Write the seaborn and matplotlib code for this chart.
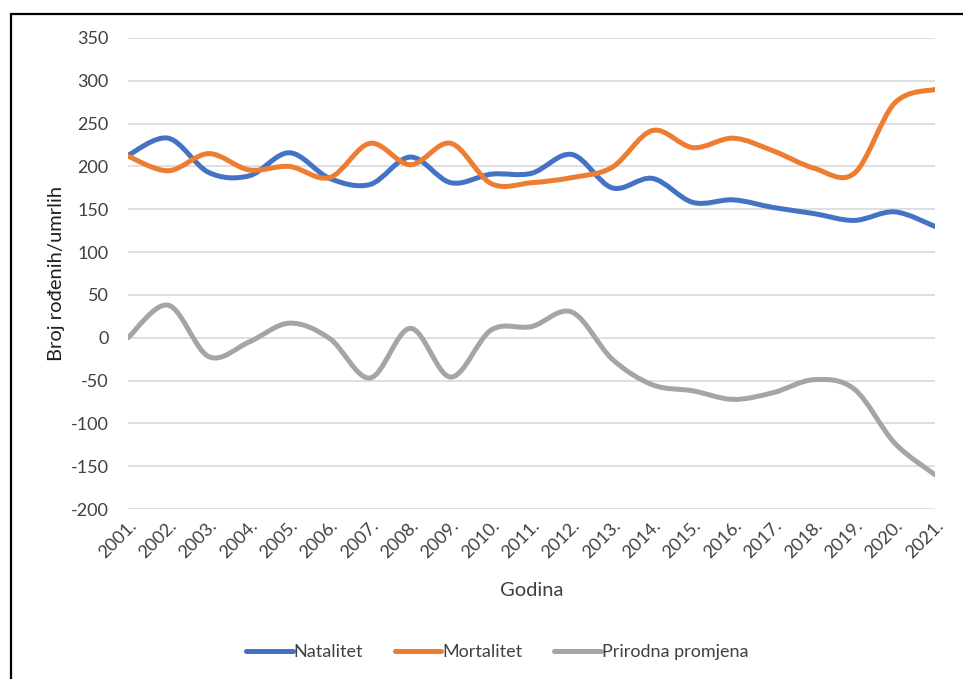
import numpy as np
import pandas as pd
import matplotlib
matplotlib.use("Agg")
import matplotlib.pyplot as plt
import seaborn as sns
from matplotlib.path import Path
from matplotlib.patches import PathPatch, Rectangle
from matplotlib.lines import Line2D

# Data
godine = list(range(2001, 2022))
godine_labels = [f"{g}." for g in godine]
natalitet = [213, 233, 193, 189, 216, 186, 179, 211, 181, 191, 192, 214,
             175, 186, 158, 161, 152, 145, 137, 147, 130]
mortalitet = [212, 195, 215, 196, 200, 187, 227, 202, 227, 180, 181, 187,
              199, 242, 222, 233, 218, 198, 192, 274, 290]
prirodna = [0, 38, -22, -5, 17, -1, -47, 11, -46, 9, 13, 30,
            -25, -55, -62, -72, -64, -49, -60, -123, -160]

series = ["Natalitet", "Mortalitet", "Prirodna promjena"]
colors = ["#4472C4", "#ED7D31", "#A5A5A5"]

df = pd.DataFrame({
    "Godina": godine * 3,
    "Vrijednost": natalitet + mortalitet + prirodna,
    "Serija": [s for s in series for _ in godine],
})

sns.set_style("white")
plt.rcParams["font.family"] = ["Lato", "DejaVu Sans"]
plt.rcParams["axes.unicode_minus"] = False

fig = plt.figure(figsize=(9.63, 6.79), dpi=100)
ax = fig.add_axes([128 / 963, 1 - 509 / 679, 807 / 963, 471 / 679])

sns.lineplot(data=df, x="Godina", y="Vrijednost", hue="Serija",
             palette=colors, hue_order=series, linewidth=3.6,
             legend=False, ax=ax)


def smooth_path(x, y, k=1 / 6):
    # Excel-like smoothed line: cubic Bezier segments through the data points
    x = np.asarray(x, float)
    y = np.asarray(y, float)
    n = len(x)
    verts = [(x[0], y[0])]
    codes = [Path.MOVETO]
    for i in range(n - 1):
        i0 = max(i - 1, 0)
        i3 = min(i + 2, n - 1)
        c1 = (x[i] + (x[i + 1] - x[i0]) * k, y[i] + (y[i + 1] - y[i0]) * k)
        c2 = (x[i + 1] - (x[i3] - x[i]) * k, y[i + 1] - (y[i3] - y[i]) * k)
        verts += [c1, c2, (x[i + 1], y[i + 1])]
        codes += [Path.CURVE4] * 3
    return Path(verts, codes)


# swap seaborn's straight segments for smoothed curves
for line, col in zip(list(ax.lines), colors):
    xd, yd = line.get_xdata(), line.get_ydata()
    line.remove()
    patch = PathPatch(smooth_path(xd, yd), fill=False, edgecolor=col,
                      linewidth=3.6, capstyle="round", joinstyle="round",
                      zorder=3)
    ax.add_patch(patch)

ax.set_xlim(2001, 2021)
ax.set_ylim(-200, 350)
ax.set_yticks(range(-200, 351, 50))
ax.set_xticks(godine)
ax.set_xticklabels(godine_labels, rotation=45, ha="right",
                   rotation_mode="anchor")
ax.grid(axis="y", color="#D9D9D9", linewidth=1.2)
ax.grid(axis="x", visible=False)
for sp in ax.spines.values():
    sp.set_visible(False)
ax.tick_params(axis="y", length=0, pad=14, labelsize=13, labelcolor="#404040")
ax.tick_params(axis="x", length=0, pad=6, labelsize=13, labelcolor="#404040")
ax.set_xlabel("Godina", fontsize=14.5, color="#404040")
ax.set_ylabel("Broj rođenih/umrlih", fontsize=14.5, color="#202020")
ax.xaxis.set_label_coords(0.5, -0.155)
ax.yaxis.set_label_coords(-0.078, 0.5)

handles = [Line2D([0], [0], color=c, linewidth=3.6, solid_capstyle="round")
           for c in colors]
fig.legend(handles, series, loc="center", bbox_to_anchor=(497 / 963, 1 - 652 / 679),
           ncol=3, frameon=False, fontsize=13, handlelength=2.6,
           handletextpad=0.05, columnspacing=1.75, labelcolor="#404040")

# outer frame (top and left edges visible)
fig.add_artist(Rectangle((11 / 963, -0.1), 1.2, 1 - 14 / 679 + 0.1,
                         transform=fig.transFigure, fill=False,
                         edgecolor="black", linewidth=1.6))

fig.savefig("out.png", dpi=100)
